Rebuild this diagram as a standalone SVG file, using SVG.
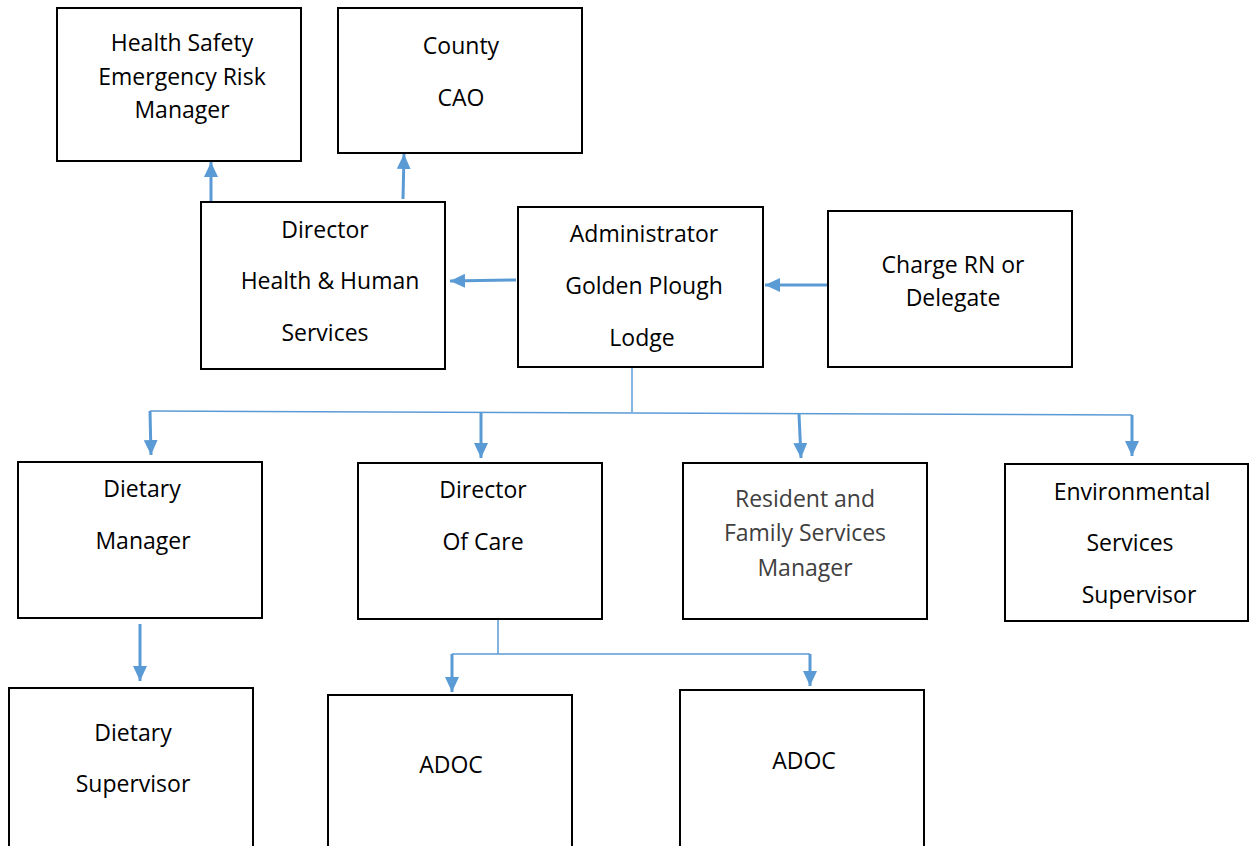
<svg xmlns="http://www.w3.org/2000/svg" width="1249" height="846" viewBox="0 0 1249 846">
<style>
.box{fill:#fff;stroke:#000;stroke-width:2}
.t{font-family:"Open Sans","Liberation Sans",sans-serif;font-size:23px;fill:#000;text-anchor:middle}
.g{fill:#404040}
.thin{fill:none;stroke:#5B9BD5;stroke-width:1.5}
.arr{fill:none;stroke:#5B9BD5;stroke-width:3;marker-end:url(#ah)}
</style>
<defs>
<marker id="ah" markerUnits="userSpaceOnUse" markerWidth="16" markerHeight="14" refX="15" refY="7" orient="auto">
<path d="M0,0 L15,7 L0,14 Z" fill="#5B9BD5"/>
</marker>
</defs>
<rect width="1249" height="846" fill="#fff"/>
<g id="connectors">
<path class="arr" d="M211,201 L211,162"/>
<path class="arr" d="M403,199 L404,154"/>
<path class="arr" d="M516,280 L450,281"/>
<path class="arr" d="M827,285 L765,285"/>
<path class="thin" d="M632,367 L632,412"/>
<path class="thin" d="M150,411 L1132,415"/>
<path class="arr" d="M150,411 L151,455"/>
<path class="arr" d="M481,412 L481,458"/>
<path class="arr" d="M799,414 L801,458"/>
<path class="arr" d="M1132,415 L1132,456"/>
<path class="arr" d="M140,624 L140,681"/>
<path class="thin" d="M498,619 L498,654 M452,654 L810,654"/>
<path class="arr" d="M452,654 L452,692"/>
<path class="arr" d="M810,654 L810,686"/>
</g>
<g id="health-safety">
<rect class="box" x="57" y="8" width="244" height="153"/>
<text class="t" x="182" y="51">Health Safety</text>
<text class="t" x="182" y="85">Emergency Risk</text>
<text class="t" x="182" y="118">Manager</text>
</g>
<g id="county-cao">
<rect class="box" x="338" y="8" width="244" height="145"/>
<text class="t" x="461" y="54">County</text>
<text class="t" x="461" y="106">CAO</text>
</g>
<g id="director-hhs">
<rect class="box" x="201" y="202" width="244" height="167"/>
<text class="t" x="325" y="238">Director</text>
<text class="t" x="330" y="289">Health &amp; Human</text>
<text class="t" x="325" y="341">Services</text>
</g>
<g id="administrator">
<rect class="box" x="518" y="207" width="245" height="160"/>
<text class="t" x="644" y="242">Administrator</text>
<text class="t" x="644" y="294">Golden Plough</text>
<text class="t" x="642" y="346">Lodge</text>
</g>
<g id="charge-rn">
<rect class="box" x="828" y="211" width="244" height="156"/>
<text class="t" x="953" y="273">Charge RN or</text>
<text class="t" x="953" y="306">Delegate</text>
</g>
<g id="dietary-manager">
<rect class="box" x="18" y="462" width="244" height="156"/>
<text class="t" x="142" y="497">Dietary</text>
<text class="t" x="143" y="549">Manager</text>
</g>
<g id="director-of-care">
<rect class="box" x="358" y="463" width="244" height="156"/>
<text class="t" x="483" y="498">Director</text>
<text class="t" x="483" y="550">Of Care</text>
</g>
<g id="resident-family">
<rect class="box" x="683" y="463" width="244" height="156"/>
<text class="t g" x="805" y="507">Resident and</text>
<text class="t g" x="805" y="541">Family Services</text>
<text class="t g" x="805" y="576">Manager</text>
</g>
<g id="environmental">
<rect class="box" x="1005" y="464" width="243" height="157"/>
<text class="t" x="1132" y="500">Environmental</text>
<text class="t" x="1130" y="551">Services</text>
<text class="t" x="1139" y="603">Supervisor</text>
</g>
<g id="dietary-supervisor">
<rect class="box" x="9" y="688" width="244" height="170"/>
<text class="t" x="133" y="741">Dietary</text>
<text class="t" x="133" y="792">Supervisor</text>
</g>
<g id="adoc-1">
<rect class="box" x="328" y="695" width="244" height="170"/>
<text class="t" x="451" y="773">ADOC</text>
</g>
<g id="adoc-2">
<rect class="box" x="680" y="690" width="244" height="170"/>
<text class="t" x="804" y="769">ADOC</text>
</g>
</svg>
